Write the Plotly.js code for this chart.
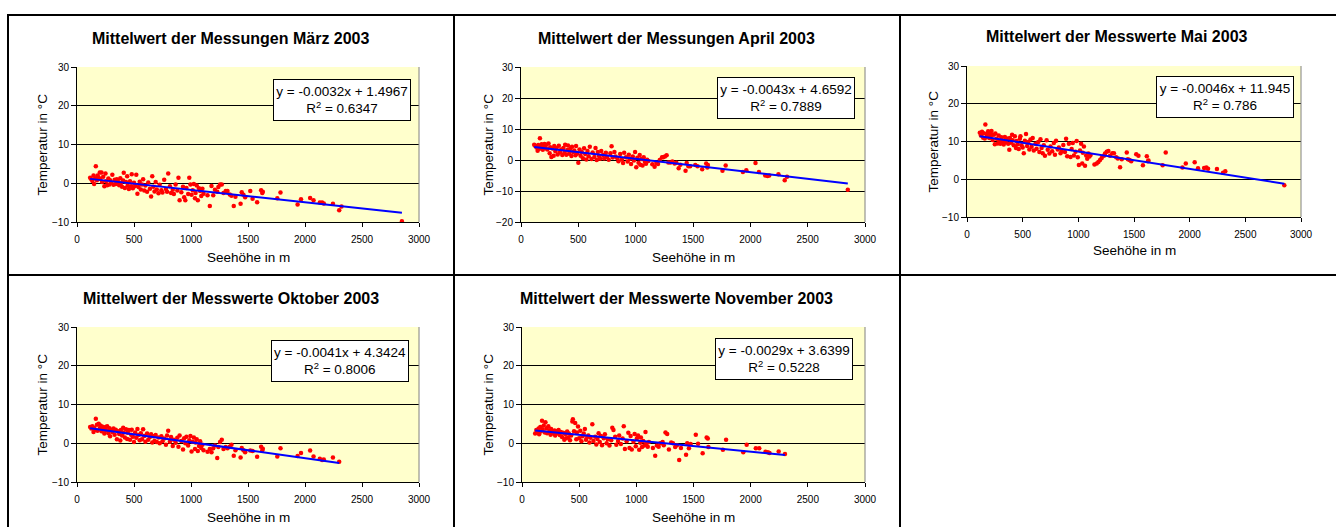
<!DOCTYPE html>
<html><head><meta charset="utf-8">
<script src="https://cdn.plot.ly/plotly-3.0.1.min.js"></script>
<style>html,body{margin:0;padding:0;background:#fff}#chart{width:1336px;height:527px}</style>
</head><body><div id="chart"></div>
<script>
// Station elevations (Seehöhe in m)
const seehoehe = [
 115,125,135,145,150,160,165,175,180,190,
 200,205,215,220,230,240,250,255,265,275,
 285,290,300,310,320,330,340,350,360,370,
 380,385,395,405,410,420,430,440,445,455,
 465,475,480,490,500,510,520,530,540,550,
 560,570,580,590,600,615,625,640,650,660,
 670,680,690,700,715,725,740,750,765,780,
 790,800,815,825,840,850,865,880,890,900,
 915,930,940,950,960,975,985,995,1005,1015,
 1025,1035,1040,1050,1060,1070,1080,1090,1100,1110,
 1145,1165,1180,1195,1210,1230,1240,1255,1270,1285,
 1305,1320,1340,1355,1375,1390,1435,1445,1460,1475,
 1520,1540,1580,1615,1625,1630,1757,1785,1935,1965,
 2045,2075,2130,2150,2165,2245,2300,2320,2850
];
const tempMaerz = [
 1.4,1.0,0.6,2.0,-0.2,1.3,4.4,0.8,2.0,1.5,
 2.8,1.1,2.8,0.3,1.7,-0.8,2.5,0.5,-0.5,1.2,
 -0.3,0.8,0.2,2.2,-0.4,0.9,-0.2,1.0,0.4,-0.5,
 1.3,0.0,-0.9,0.7,2.7,-1.2,0.3,1.8,-0.6,-1.5,
 0.5,-0.8,2.3,-1.3,0.1,-0.7,2.2,-2.7,-1.0,0.4,
 -1.6,-0.3,1.0,-1.9,-0.6,-2.2,0.2,-1.4,-3.4,1.8,
 -0.9,-2.1,0.3,-1.6,-2.6,-0.4,-1.8,-2.4,0.9,-1.5,
 -2.2,2.5,-0.8,-2.5,-1.7,-2.8,-0.3,-1.9,1.4,-4.4,
 -2.3,-0.9,-3.6,-4.4,-1.2,-2.8,1.4,-0.3,-3.0,-1.8,
 -0.2,-3.9,-2.5,-0.6,-4.4,-1.3,-2.0,-3.3,-1.4,-2.7,
 -3.1,-5.9,-0.7,-3.1,-1.7,-2.2,-1.0,-0.3,-0.3,-2.5,
 -2.0,-2.0,-2.9,-3.2,-5.9,-3.5,-5.3,-2.3,-3.0,-3.6,
 -2.0,-4.0,-4.9,-1.8,-2.5,-2.2,-3.9,-2.4,-5.5,-4.1,
 -3.8,-4.4,-5.0,-5.0,-5.2,-5.3,-7.0,-6.0,-9.8
];
const tempApril = [
 4.9,4.5,4.0,3.0,4.8,3.6,7.0,4.2,5.1,3.3,
 4.6,5.2,3.8,4.9,3.4,5.3,2.2,4.1,1.0,3.7,
 1.4,4.5,2.8,3.9,1.8,4.6,2.5,3.4,1.6,3.9,
 2.3,4.9,1.7,3.2,4.7,2.0,3.6,1.3,4.3,2.6,
 3.1,1.5,4.5,2.1,-0.9,3.4,1.4,2.6,0.6,3.8,
 1.9,0.2,2.9,1.2,4.3,0.3,2.4,1.0,3.9,0.0,
 2.6,1.3,0.4,2.9,1.6,0.5,2.3,1.0,0.1,2.2,
 4.4,0.8,2.6,1.1,0.6,-0.4,1.9,0.2,-1.0,2.3,
 0.9,-0.5,1.7,0.4,-1.3,1.1,-0.2,2.6,-2.3,0.7,
 -0.9,1.6,-1.5,0.3,-1.8,0.9,-0.6,-1.2,0.1,-0.3,
 -1.4,-2.2,-1.0,-1.3,0.0,0.9,0.9,1.1,1.5,-0.8,
 -0.8,-0.5,-1.1,-0.9,-2.7,-1.5,-3.5,-1.0,-2.0,-2.0,
 -1.6,-2.0,-3.0,-1.1,-2.4,-1.6,-3.5,-1.8,-3.9,-3.3,
 -1.0,-3.9,-5.0,-5.2,-5.0,-4.6,-6.5,-5.4,-9.6
];
const tempMai = [
 12.3,11.6,12.6,11.0,12.2,10.8,14.5,12.0,11.3,12.7,
 10.9,12.1,11.5,12.8,10.4,11.8,9.3,12.1,10.7,9.5,
 11.6,10.2,9.4,11.1,10.0,9.2,11.2,9.8,10.8,9.4,
 7.8,10.9,9.7,11.8,10.3,9.0,11.4,8.3,10.1,9.3,
 8.0,10.7,11.4,9.0,8.4,6.9,10.2,12.0,8.8,9.9,
 7.9,10.5,8.6,10.9,7.6,9.4,8.1,9.9,7.2,10.6,
 8.3,6.9,9.0,6.2,10.3,7.8,6.8,8.7,7.4,9.6,
 6.5,10.2,7.9,8.4,6.9,7.5,9.1,7.2,10.7,6.1,
 9.4,5.9,8.0,9.6,6.3,7.3,10.1,5.8,3.8,7.6,
 9.4,4.2,7.0,8.7,3.6,6.3,5.4,6.8,6.0,6.4,
 3.9,4.2,4.6,5.1,5.6,6.2,6.8,7.3,7.5,6.2,
 6.9,6.9,5.8,5.5,3.2,5.3,7.1,5.3,5.1,4.8,
 6.6,6.2,3.7,6.1,4.8,5.0,3.7,7.1,3.1,4.2,
 4.5,2.9,3.0,3.1,2.8,2.7,1.75,2.1,-1.6
];
const tempOktober = [
 4.2,3.8,4.4,2.9,4.0,3.5,6.3,4.8,3.2,5.0,
 3.9,4.6,3.1,4.3,3.6,2.5,4.2,3.3,4.4,2.6,
 3.9,1.8,3.4,2.9,3.8,2.2,3.5,1.0,3.1,2.4,
 0.7,3.4,2.0,4.0,2.8,1.5,3.6,1.1,2.7,3.4,
 0.9,2.2,3.5,1.7,0.3,2.8,1.4,3.7,2.1,0.8,
 2.6,1.0,3.6,1.9,0.4,2.5,0.9,1.6,2.3,0.2,
 1.8,0.6,2.1,0.3,1.5,0.0,1.8,0.5,1.2,-0.4,
 2.0,3.2,0.4,1.6,-0.7,0.9,0.1,1.4,-0.9,2.0,
 0.6,-1.6,1.3,0.0,1.7,-0.6,0.8,1.9,-2.1,0.4,
 1.5,-1.5,0.2,1.0,-2.0,-0.7,0.5,-1.2,-0.4,-1.8,
 -2.2,-1.5,-2.3,-1.3,-0.6,-3.8,-1.0,0.3,0.9,-1.5,
 -1.0,-1.3,-0.9,-0.4,-3.2,-1.8,-3.7,-1.2,-1.8,-2.3,
 -1.9,-2.0,-3.5,-0.9,-1.9,-1.4,-3.4,-1.3,-3.3,-2.5,
 -1.9,-3.4,-4.0,-4.3,-4.2,-3.7,-4.8,null,null
];
const tempNovember = [
 2.5,3.4,2.9,3.8,2.3,4.2,3.0,5.8,3.6,4.6,
 2.8,5.4,3.9,2.6,4.4,3.2,2.2,3.7,3.0,2.5,
 3.3,2.0,3.1,2.6,3.4,2.1,2.9,1.6,2.7,0.9,
 2.4,1.3,3.0,1.5,2.5,0.8,2.0,5.6,6.2,3.1,
 5.2,1.0,2.8,4.3,1.3,3.2,0.5,1.8,2.5,3.7,
 0.9,1.6,2.0,0.2,1.4,4.9,0.6,1.7,-0.3,1.1,
 2.6,0.3,1.9,-0.5,1.3,2.3,0.0,1.0,-0.6,0.8,
 4.0,3.4,1.7,-0.4,0.6,2.0,-0.2,1.2,4.4,-1.5,
 0.5,2.7,-1.2,1.9,-1.6,0.4,2.4,-0.8,1.3,2.0,
 -1.7,0.1,1.5,-1.0,0.6,-0.6,2.9,0.0,-0.9,0.3,
 -1.2,-3.2,-0.6,-0.9,0.0,0.3,-0.5,2.8,2.4,-1.6,
 0.2,0.0,-1.0,-0.5,-4.3,-1.2,-3.0,0.0,-1.3,-0.2,
 2.2,-0.1,-2.6,1.5,1.2,-1.0,-1.7,0.9,-2.3,-0.4,
 -1.3,-1.3,-2.2,-2.3,-2.5,-2.1,-2.8,null,null
];
const titles = [
 "Mittelwert der Messungen März 2003",
 "Mittelwert der Messungen April 2003",
 "Mittelwert der Messwerte Mai 2003",
 "Mittelwert der Messwerte Oktober 2003",
 "Mittelwert der Messwerte November 2003"
];
const trendSlope = [-0.0032, -0.0043, -0.0046, -0.0041, -0.0029];
const trendIntercept = [1.4967, 4.6592, 11.945, 4.3424, 3.6399];
const rSquared = [0.6347, 0.7889, 0.786, 0.8006, 0.5228];
const yRanges = [[-10,30],[-20,30],[-10,30],[-10,30],[-10,30]];
const xTickVals = [0,500,1000,1500,2000,2500,3000];
const xAxisTitle = "Seehöhe in m";
const yAxisTitle = "Temperatur in °C";

const series = [tempMaerz, tempApril, tempMai, tempOktober, tempNovember];

// layout geometry (pixels)
const W = 1336, H = 527;
const boxes = [
 {l:77, r:419, t:67, b:222, tx:231, ty:38, xt:257, yt:42, eq:{x:341.5, y:100}},
 {l:521, r:865, t:67, b:222, tx:676.5, ty:38, xt:257, yt:488, eq:{x:786, y:98.5}},
 {l:967, r:1301, t:66, b:217, tx:1117, ty:37, xt:250, yt:933, eq:{x:1224.5, y:97}},
 {l:77, r:419, t:327, b:482, tx:230.5, ty:298, xt:517, yt:42, eq:{x:340, y:360.5}},
 {l:522, r:865, t:327, b:482, tx:676.7, ty:298, xt:517, yt:488, eq:{x:784.3, y:359}}
];
const fx = v => v / W;
const fy = v => 1 - v / H;
const FONT = "Arial, 'Liberation Sans', sans-serif";

const traces = [];
const layout = {
  width: W, height: H,
  margin: {l:0, r:0, t:0, b:0},
  paper_bgcolor: "#ffffff",
  plot_bgcolor: "#FFFFCC",
  showlegend: false,
  font: {family: FONT, color: "#000"},
  annotations: [],
  shapes: []
};

series.forEach((temps, i) => {
  const n = i + 1;
  const xa = "x" + (n === 1 ? "" : n), ya = "y" + (n === 1 ? "" : n);
  const xs = [], ys = [];
  temps.forEach((t, k) => { if (t !== null) { xs.push(seehoehe[k]); ys.push(t); } });
  traces.push({
    type: "scatter", mode: "markers", x: xs, y: ys, xaxis: xa, yaxis: ya,
    marker: {color: "#FF0000", size: 4.5, line: {width: 0}}, hoverinfo: "skip"
  });
  const xmin = Math.min(...xs), xmax = Math.max(...xs);
  traces.push({
    type: "scatter", mode: "lines",
    x: [xmin, xmax],
    y: [trendSlope[i]*xmin + trendIntercept[i], trendSlope[i]*xmax + trendIntercept[i]],
    xaxis: xa, yaxis: ya, line: {color: "#0000FF", width: 2}, hoverinfo: "skip"
  });
  const b = boxes[i];
  layout["xaxis" + (n === 1 ? "" : n)] = {
    domain: [fx(b.l), fx(b.r)], anchor: ya, range: [0, 3000],
    tickvals: xTickVals, showgrid: false, zeroline: false,
    showline: true, linecolor: "#000", linewidth: 1,
    ticks: "outside", ticklen: 4, tickcolor: "#000",
    ticklabelstandoff: 4,
    tickfont: {size: 10, family: FONT, color: "#000"}
  };
  layout["yaxis" + (n === 1 ? "" : n)] = {
    domain: [fy(b.b), fy(b.t)], anchor: xa, range: yRanges[i], dtick: 10,
    showgrid: true, gridcolor: "#000", gridwidth: 1, zeroline: false,
    showline: true, linecolor: "#000", linewidth: 1,
    ticks: "outside", ticklen: 5, tickcolor: "#000",
    tickfont: {size: 10, family: FONT, color: "#000"}
  };
  // right border of plot area (gray)
  layout.shapes.push({type: "line", xref: xa + " domain", yref: ya + " domain",
    x0: 1, x1: 1, y0: 0, y1: 1, line: {color: "#808080", width: 1}});
  // titles
  layout.annotations.push({
    xref: "paper", yref: "paper", x: fx(b.tx), y: fy(b.ty), xanchor: "center", yanchor: "middle",
    text: "<b>" + titles[i] + "</b>", showarrow: false, font: {size: 16, family: FONT, color: "#000"}
  });
  layout.annotations.push({
    xref: "paper", yref: "paper", x: fx((b.l + b.r) / 2), y: fy(b.xt), xanchor: "center", yanchor: "middle",
    text: xAxisTitle, showarrow: false, font: {size: 13.5, family: FONT, color: "#000"}
  });
  layout.annotations.push({
    xref: "paper", yref: "paper", x: fx(b.yt), y: fy((b.t + b.b) / 2), xanchor: "center", yanchor: "middle",
    text: yAxisTitle, textangle: -90, showarrow: false, font: {size: 13.5, family: FONT, color: "#000"}
  });
  layout.annotations.push({
    xref: "paper", yref: "paper", x: fx(b.eq.x), y: fy(b.eq.y), xanchor: "center", yanchor: "middle",
    text: "y = " + trendSlope[i] + "x + " + trendIntercept[i] + "<br>R<sup>2</sup> = " + rSquared[i],
    showarrow: false, align: "center", bgcolor: "#ffffff", bordercolor: "#000", borderwidth: 1,
    borderpad: 1, width: 134, height: 38,
    font: {size: 13.5, family: FONT, color: "#000"}
  });
});

// table borders
const lineS = (x0, y0, x1, y1) => ({type: "line", xref: "paper", yref: "paper",
  x0: fx(x0), x1: fx(x1), y0: fy(y0), y1: fy(y1), line: {color: "#000", width: 2}, layer: "above"});
layout.shapes.push(lineS(8, 14, 8, 527));
layout.shapes.push(lineS(7, 15, 1336, 15));
layout.shapes.push(lineS(454, 14, 454, 527));
layout.shapes.push(lineS(900, 14, 900, 527));
layout.shapes.push(lineS(7, 275, 1336, 275));

Plotly.newPlot("chart", traces, layout, {staticPlot: true, displayModeBar: false});
</script>
</body></html>
